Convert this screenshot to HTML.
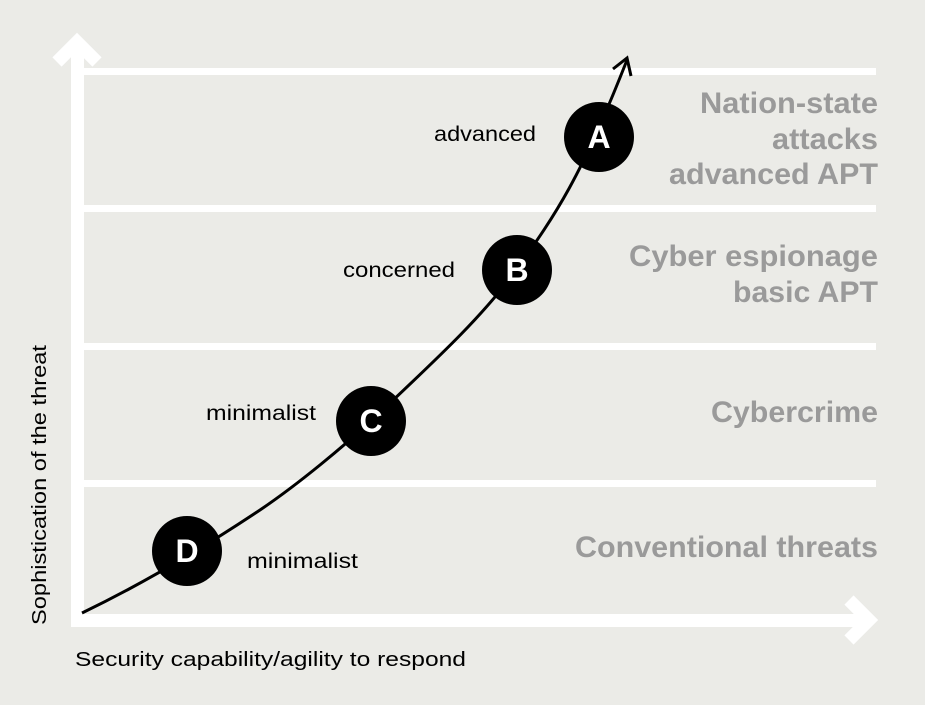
<!DOCTYPE html><html><head><style>body{margin:0;background:#ebebe7}svg{display:block}</style></head><body>
<svg width="925" height="705" xmlns="http://www.w3.org/2000/svg" font-family="Liberation Sans, Arial, sans-serif">
<rect width="925" height="705" fill="#ebebe7"/>
<g fill="#fff">
<rect x="84" y="68" width="792" height="7"/><rect x="84" y="205" width="792" height="7"/>
<rect x="84" y="343" width="792" height="7"/><rect x="84" y="480" width="792" height="7"/>
<rect x="71" y="50" width="13" height="577"/><rect x="71" y="614" width="790" height="13"/>
</g>
<g fill="none" stroke="#fff" stroke-width="13" stroke-linejoin="miter">
<polyline points="57,62 77,42 97,62"/><polyline points="849,600 869,620 849,640"/></g>
<path d="M82,613 C140,585 200,550 260,510 C300,483 345,445 371,421 C430,365 480,320 517,269 C555,215 580,180 627,60" fill="none" stroke="#000" stroke-width="3"/>
<polyline points="613,69 627,58 631,76" fill="none" stroke="#000" stroke-width="3"/>
<g fill="#000"><circle cx="599" cy="137" r="35"/><circle cx="517" cy="270" r="35"/><circle cx="371" cy="421" r="35"/><circle cx="187" cy="551" r="35"/></g>
<g fill="#fff" font-size="32" font-weight="bold" text-anchor="middle">
<text x="599" y="148">A</text><text x="517" y="281">B</text><text x="371" y="432">C</text><text x="187" y="562">D</text></g>
<g font-size="21" fill="#000">
<text x="434" y="141" textLength="102" lengthAdjust="spacingAndGlyphs">advanced</text>
<text x="343" y="277" textLength="112" lengthAdjust="spacingAndGlyphs">concerned</text>
<text x="206" y="420" textLength="110" lengthAdjust="spacingAndGlyphs">minimalist</text>
<text x="247" y="568" textLength="111" lengthAdjust="spacingAndGlyphs">minimalist</text>
<text x="75" y="666" font-size="20" textLength="391" lengthAdjust="spacingAndGlyphs">Security capability/agility to respond</text>
<text transform="translate(46,625) rotate(-90)" font-size="20" textLength="280" lengthAdjust="spacingAndGlyphs">Sophistication of the threat</text></g>
<g fill="#9a9a9a" font-size="30" font-weight="bold">
<text x="700" y="113" textLength="178" lengthAdjust="spacingAndGlyphs">Nation-state</text>
<text x="772" y="149" textLength="106" lengthAdjust="spacingAndGlyphs">attacks</text>
<text x="669" y="184" textLength="209" lengthAdjust="spacingAndGlyphs">advanced APT</text>
<text x="629" y="266" textLength="249" lengthAdjust="spacingAndGlyphs">Cyber espionage</text>
<text x="733" y="302" textLength="145" lengthAdjust="spacingAndGlyphs">basic APT</text>
<text x="711" y="422" textLength="167" lengthAdjust="spacingAndGlyphs">Cybercrime</text>
<text x="575" y="557" textLength="303" lengthAdjust="spacingAndGlyphs">Conventional threats</text></g>
</svg></body></html>
